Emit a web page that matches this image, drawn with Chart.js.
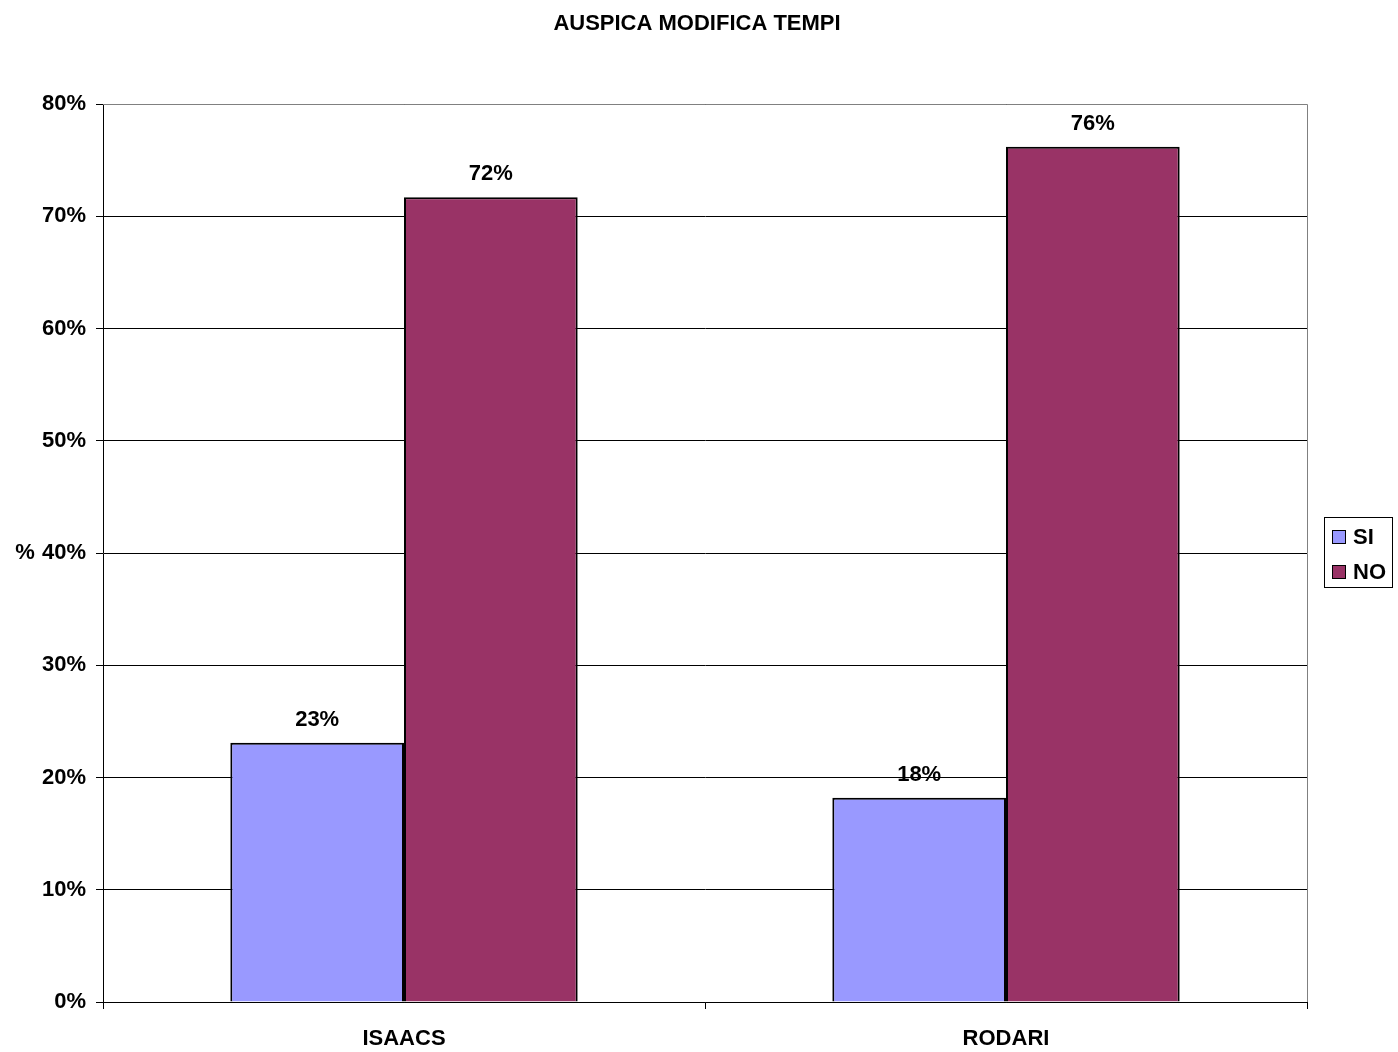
<!DOCTYPE html>
<html>
<head>
<meta charset="utf-8">
<script src="https://cdn.jsdelivr.net/npm/chart.js@4"></script>
<style>
html,body{margin:0;padding:0;background:#fff;}
#c{display:block;}
</style>
</head>
<body>
<canvas id="c" width="1398" height="1052"></canvas>
<script>
const categories = ['ISAACS', 'RODARI'];
const seriesNames = ['SI', 'NO'];
const siValues = [23.1, 18.2];
const noValues = [71.7, 76.2];
const yTicks = [0, 10, 20, 30, 40, 50, 60, 70, 80];
const chartTitle = 'AUSPICA MODIFICA TEMPI';
const yAxisTitle = '%';

const FONT = "'Liberation Sans', Arial, sans-serif";

const extras = {
  id: 'extras',
  afterDraw(chart) {
    const ctx = chart.ctx;
    const a = chart.chartArea;
    ctx.save();
    // top and right border
    ctx.strokeStyle = '#808080';
    ctx.lineWidth = 1;
    ctx.beginPath();
    ctx.moveTo(a.left, a.top + 0.5);
    ctx.lineTo(a.right + 0.5, a.top + 0.5);
    ctx.lineTo(a.right + 0.5, a.bottom);
    ctx.stroke();
    // title
    ctx.fillStyle = '#000';
    ctx.font = 'bold 22px ' + FONT;
    ctx.textAlign = 'center';
    ctx.textBaseline = 'middle';
    ctx.fillText(chartTitle, 697, 24);
    // y axis title
    const ys = chart.scales.y;
    ctx.fillText(yAxisTitle, 25, ys.getPixelForValue(40));
    // data labels
    chart.data.datasets.forEach((ds, i) => {
      const meta = chart.getDatasetMeta(i);
      meta.data.forEach((bar, j) => {
        ctx.fillText(Math.round(ds.data[j]) + '%', bar.x, bar.y - 23);
      });
    });
    // legend
    ctx.fillStyle = '#fff';
    ctx.strokeStyle = '#000';
    ctx.fillRect(1324.5, 517.5, 68, 70);
    ctx.strokeRect(1324.5, 517.5, 68, 70);
    const rows = [537, 572];
    chart.data.datasets.forEach((ds, i) => {
      ctx.fillStyle = ds.backgroundColor;
      ctx.fillRect(1332.5, rows[i] - 6.5, 13, 13);
      ctx.strokeRect(1332.5, rows[i] - 6.5, 13, 13);
      ctx.fillStyle = '#000';
      ctx.textAlign = 'left';
      ctx.fillText(ds.label, 1353, rows[i] + 1);
    });
    ctx.restore();
  }
};

new Chart(document.getElementById('c'), {
  type: 'bar',
  data: {
    labels: categories,
    datasets: [
      { label: seriesNames[0], data: siValues, backgroundColor: '#9999FF', borderColor: '#000', borderWidth: 2 },
      { label: seriesNames[1], data: noValues, backgroundColor: '#993366', borderColor: '#000', borderWidth: 2 }
    ]
  },
  options: {
    responsive: false,
    animation: false,
    devicePixelRatio: 1,
    layout: { padding: { top: 104, right: 91, left: 0, bottom: 0 } },
    plugins: { legend: { display: false }, title: { display: false }, tooltip: { enabled: false } },
    datasets: { bar: { categoryPercentage: 0.577, barPercentage: 1.0 } },
    scales: {
      x: {
        grid: { drawOnChartArea: false, drawTicks: true, tickLength: 7, color: '#000', offset: true },
        border: { color: '#000' },
        ticks: { color: '#000', font: { family: FONT, size: 22, weight: 'bold' }, padding: 17 },
        afterFit(s) { s.height = 50; }
      },
      y: {
        min: 0, max: 80,
        afterBuildTicks(s) { s.ticks = yTicks.map(v => ({ value: v })); },
        grid: { color: '#000', tickLength: 7 },
        border: { color: '#000' },
        ticks: { color: '#000', font: { family: FONT, size: 22, weight: 'bold' }, padding: 10, callback: v => v + '%' },
        afterFit(s) { s.width = 103; }
      }
    }
  },
  plugins: [extras]
});
</script>
</body>
</html>
